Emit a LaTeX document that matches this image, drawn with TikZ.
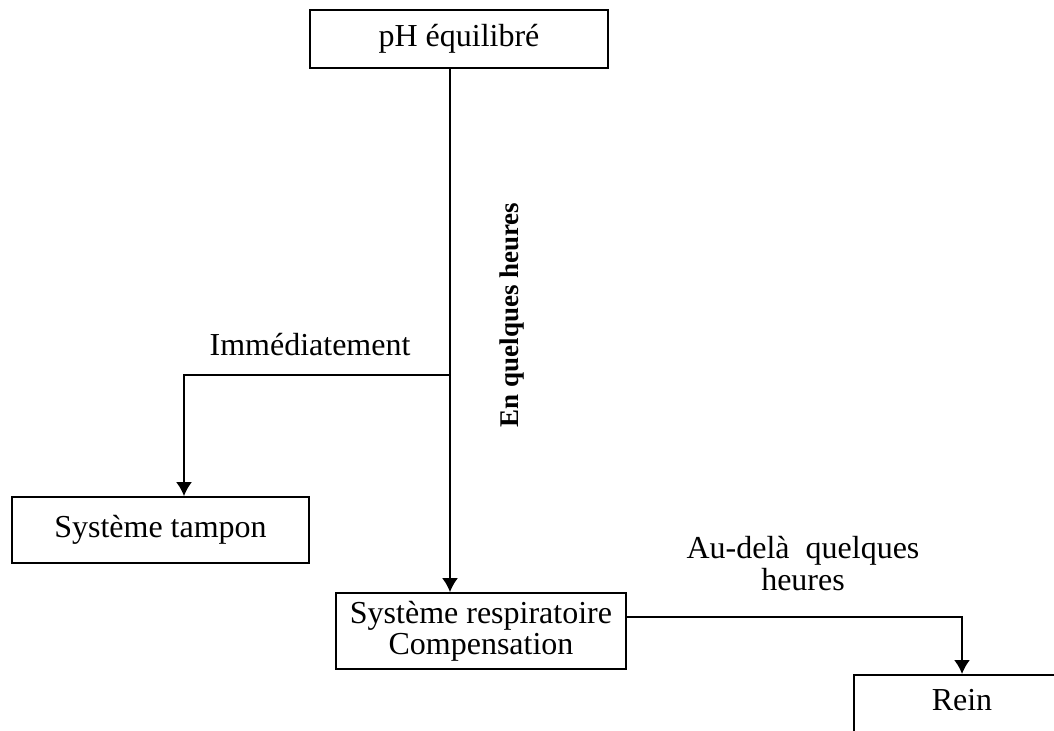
\documentclass[tikz,border=0pt]{standalone}
\usepackage{fontspec}
\setmainfont{Liberation Serif}
\usetikzlibrary{arrows.meta}
\begin{document}
\begin{tikzpicture}[x=0.5pt,y=-0.5pt]
		\tikzstyle{fleche}=[->,>={Latex[length=7pt,width=8pt]},line width=0.9pt]
		\tikzstyle{boite}=[draw,line width=0.9pt,inner sep=0pt,align=center,font=\fontsize{16}{15}\selectfont]
		\tikzstyle{etiquette}=[align=center,font=\fontsize{16}{16}\selectfont]
		
		\def\AxeX{450}
		\def\NiveauBranche{375}
		
		\useasboundingbox (0,0) rectangle (1054,731);
		\clip (0,0) rectangle (1054,731);
		
		\node[boite,minimum width=149pt,minimum height=29pt] (pH) at (459,39) {pH équilibré};
		\node[boite,minimum width=148.5pt,minimum height=33pt] (Tampon) at (160.5,530) {Système tampon};
		\node[boite,minimum width=145pt,minimum height=38pt,font=\fontsize{16}{15.5}\selectfont] (Resp) at (481,631) {Système respiratoire\\Compensation};
		\node[boite,anchor=north,minimum width=108pt,inner sep=7pt,text height=11pt,text depth=20pt] (Rein) at (962,674) {Rein};
		
		\node[etiquette] (Immed) at (310,345) {Immédiatement};
		\node[etiquette,rotate=90,font=\fontsize{13.5}{14}\selectfont\bfseries] (Heures) at (512,315) {En quelques heures};
		\node[etiquette] (Audela) at (803,564) {Au-delà\ \ quelques\\heures};
		
		\coordinate (Branche) at (\AxeX,\NiveauBranche);
		\coordinate (CoudeTampon) at (184,\NiveauBranche);
		\coordinate (CoudeRein) at (962,617);
		
		\draw[fleche] (pH.south -| Branche)--(Resp.north -| Branche);
		\draw[fleche] (Branche)--(CoudeTampon)--(CoudeTampon |- Tampon.north);
		\draw[fleche] (Resp.east |- CoudeRein)-|(Rein.north);
	\end{tikzpicture}
\end{document}
